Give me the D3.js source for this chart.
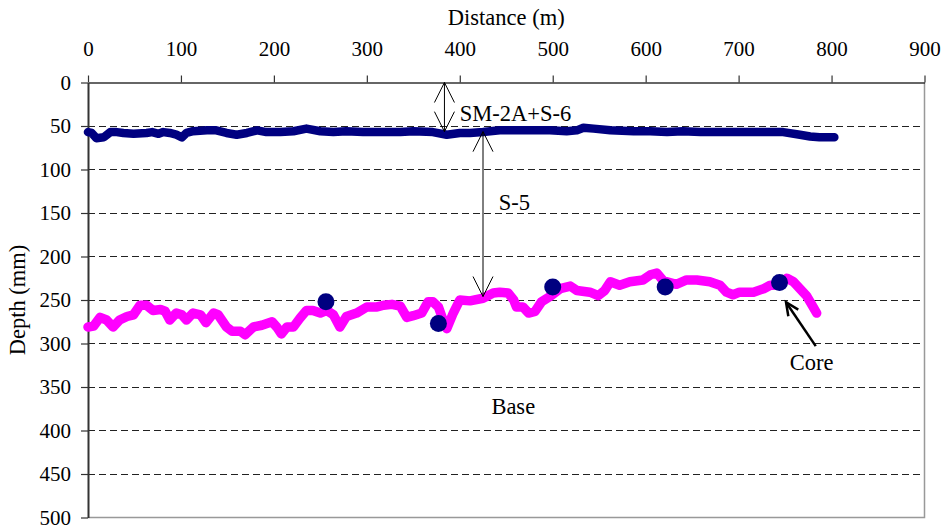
<!DOCTYPE html>
<html>
  <head>
    <meta charset="utf-8">
    <script src="https://d3js.org/d3.v7.min.js"></script>
    <title>Layer depths along distance</title>
    <style>
      body {
        margin: 0px;
        background: #fff;
      }
      svg text {
        font-family: "Liberation Serif", "DejaVu Serif", serif;
        fill: #000;
      }
      .tick text {
        font-size: 21px;
      }
      .tick line {
        stroke: #333;
      }
      .axis-label, .note {
        font-size: 22.5px;
      }
      .grid line {
        stroke: #222;
        stroke-dasharray: 7,4;
      }
    </style>
  </head>
  <body>
    <svg width="944" height="527"></svg>
    <script>

      // top surface layer (SM-2A + S-6 bottom)
      const topX = [0, 4, 9, 17, 24, 31, 38, 49, 63, 69, 76, 81, 88, 95, 101, 106, 113, 128, 138, 149,
        160, 171, 182, 192, 207, 221, 235, 250, 264, 278, 296, 314, 336, 350, 371, 386, 400, 411, 425, 443,
        461, 479, 497, 515, 526, 533, 544, 562, 587, 605, 623, 640, 659, 677, 694, 712, 730, 748, 766, 777,
        787, 798, 803];
      const topDepth = [57, 58, 64, 63, 57, 57, 58, 59, 58, 57, 59, 57, 58, 60, 63, 58, 56, 55, 55, 58,
        60, 58, 55, 57, 57, 56, 53, 56, 57, 56, 57, 57, 57, 56, 57, 60, 58, 58, 57, 55,
        55, 55, 55, 56, 55, 52, 53, 55, 56, 56, 57, 56, 57, 57, 57, 57, 57, 57, 60, 62,
        63, 63, 63];

      // base layer (bottom of S-5)
      const baseX = [0, 6, 13, 20, 27, 34, 42, 49, 56, 63, 70, 78, 83, 88, 95, 101, 106, 113, 121, 127,
        135, 140, 149, 155, 164, 169, 178, 187, 198, 203, 208, 214, 221, 228, 235, 242, 250, 257, 264, 271,
        278, 289, 300, 311, 318, 327, 336, 343, 350, 359, 366, 371, 377, 382, 386, 393, 400, 411, 425, 436,
        443, 452, 458, 461, 468, 474, 481, 488, 497, 508, 519, 526, 540, 549, 556, 562, 572, 583, 597, 605,
        612, 619, 633, 644, 655, 669, 680, 687, 694, 701, 716, 727, 734, 744, 752, 759, 766, 773, 779, 784];
      const baseDepth = [281, 280, 270, 273, 281, 273, 269, 267, 256, 256, 262, 261, 263, 273, 265, 267, 273, 265, 267, 276,
        265, 267, 281, 286, 286, 290, 281, 279, 275, 281, 289, 281, 281, 271, 262, 262, 265, 262, 267, 281,
        269, 265, 258, 258, 256, 255, 257, 270, 268, 265, 252, 252, 258, 273, 283, 265, 250, 251, 248, 242,
        241, 242, 250, 258, 258, 265, 263, 252, 246, 237, 234, 239, 241, 245, 239, 229, 233, 229, 227, 221,
        219, 228, 232, 227, 227, 229, 233, 241, 244, 241, 241, 237, 233, 233, 225, 229, 237, 245, 256, 265];

      // cores
      const coreX = [256, 377, 500, 621, 744];
      const coreDepth = [252, 277, 235, 235, 230];

      const xTicks = [0, 100, 200, 300, 400, 500, 600, 700, 800, 900];
      const yTicks = [0, 50, 100, 150, 200, 250, 300, 350, 400, 450, 500];
      const gridValues = [50, 100, 150, 200, 250, 300, 350, 400, 450];

      const xLabel = 'Distance (m)';
      const yLabel = 'Depth (mm)';

      const margin = { left: 88, right: 19.5, top: 82.5, bottom: 9.5 };

      const svg = d3.select('svg');
      const width = +svg.attr('width');
      const height = +svg.attr('height');
      const innerWidth = width - margin.left - margin.right;
      const innerHeight = height - margin.top - margin.bottom;

      const xScale = d3.scaleLinear().domain([0, 900]).range([0, innerWidth]);
      const yScale = d3.scaleLinear().domain([0, 500]).range([0, innerHeight]);

      const g = svg.append('g')
          .attr('transform', `translate(${margin.left},${margin.top})`);

      // dashed gridlines
      g.append('g').attr('class', 'grid')
        .selectAll('line').data(gridValues)
        .enter().append('line')
          .attr('x1', 0)
          .attr('x2', innerWidth)
          .attr('y1', d => Math.round(yScale(d)))
          .attr('y2', d => Math.round(yScale(d)));

      // plot border right & bottom (grey)
      g.append('path')
          .attr('d', `M${innerWidth},0V${innerHeight}H0`)
          .attr('fill', 'none')
          .attr('stroke', '#999')
          .attr('stroke-width', 1.5);

      const xAxis = d3.axisTop(xScale)
        .tickValues(xTicks)
        .tickSize(7)
        .tickSizeOuter(0)
        .tickPadding(20);

      const yAxis = d3.axisLeft(yScale)
        .tickValues(yTicks)
        .tickSize(7)
        .tickSizeOuter(0)
        .tickPadding(10);

      const xAxisG = g.append('g').call(xAxis);
      const yAxisG = g.append('g').call(yAxis);
      svg.selectAll('g').attr('font-family', null).attr('font-size', null);
      xAxisG.selectAll('.domain').attr('stroke', '#333').attr('stroke-width', 1.5);
      yAxisG.selectAll('.domain').attr('stroke', '#333').attr('stroke-width', 2);
      xAxisG.selectAll('.tick line').attr('stroke-width', 1.2);
      yAxisG.selectAll('.tick line').attr('stroke-width', 1.2);
      svg.selectAll('.tick text').attr('fill', '#000');

      svg.append('text')
          .attr('class', 'axis-label')
          .attr('x', margin.left + innerWidth / 2)
          .attr('y', 25)
          .attr('text-anchor', 'middle')
          .text(xLabel);

      svg.append('text')
          .attr('class', 'axis-label')
          .attr('transform', `translate(25,${margin.top + innerHeight / 2}) rotate(-90)`)
          .attr('text-anchor', 'middle')
          .text(yLabel);

      const line = d3.line()
        .x(d => xScale(d[0]))
        .y(d => yScale(d[1]));

      g.append('path')
          .datum(topX.map((x, i) => [x, topDepth[i]]))
          .attr('d', line)
          .attr('fill', 'none')
          .attr('stroke', '#000080')
          .attr('stroke-width', 8.5)
          .attr('stroke-linejoin', 'round')
          .attr('stroke-linecap', 'round');

      g.append('path')
          .datum(baseX.map((x, i) => [x, baseDepth[i]]))
          .attr('d', line)
          .attr('fill', 'none')
          .attr('stroke', '#ff00ff')
          .attr('stroke-width', 9.5)
          .attr('stroke-linejoin', 'round')
          .attr('stroke-linecap', 'round');

      g.selectAll('circle').data(coreX.map((x, i) => [x, coreDepth[i]]))
        .enter().append('circle')
          .attr('cx', d => xScale(d[0]))
          .attr('cy', d => yScale(d[1]))
          .attr('r', 8.5)
          .attr('fill', '#000080');

      // annotation arrows: open V heads
      const arrowHead = (x, y, dx, dy, len, half, sw) => {
        const n = Math.hypot(dx, dy);
        const ux = dx / n, uy = dy / n;
        const bx = x - ux * len, by = y - uy * len;
        g.append('path')
            .attr('d', `M${bx - uy * half},${by + ux * half}L${x},${y}L${bx + uy * half},${by - ux * half}`)
            .attr('fill', 'none')
            .attr('stroke', '#000')
            .attr('stroke-width', sw);
      };

      const doubleArrow = (xv, d0, d1) => {
        const x = xScale(xv), y0 = yScale(d0), y1 = yScale(d1);
        g.append('line')
            .attr('x1', x).attr('x2', x)
            .attr('y1', y0).attr('y2', y1)
            .attr('stroke', '#000').attr('stroke-width', 1);
        arrowHead(x, y0, 0, -1, 20, 10, 1);
        arrowHead(x, y1, 0, 1, 20, 10, 1);
      };

      doubleArrow(383.5, 0, 56.5);
      doubleArrow(425, 56.5, 246);

      // core arrow
      const cx0 = xScale(783), cy0 = yScale(303), cx1 = xScale(751), cy1 = yScale(252.5);
      g.append('line')
          .attr('x1', cx0).attr('y1', cy0)
          .attr('x2', cx1).attr('y2', cy1)
          .attr('stroke', '#000').attr('stroke-width', 2.5);
      arrowHead(cx1, cy1, cx1 - cx0, cy1 - cy0, 13, 6, 2.5);

      const notes = [
        { text: 'SM-2A+S-6', x: 400, d: 44.5, anchor: 'start' },
        { text: 'S-5', x: 442, d: 146, anchor: 'start' },
        { text: 'Base', x: 434, d: 381, anchor: 'start' },
        { text: 'Core', x: 755, d: 330, anchor: 'start' }
      ];

      g.selectAll('.note').data(notes)
        .enter().append('text')
          .attr('class', 'note')
          .attr('x', d => xScale(d.x))
          .attr('y', d => yScale(d.d))
          .attr('text-anchor', d => d.anchor)
          .text(d => d.text);
    </script>
  </body>
</html>
